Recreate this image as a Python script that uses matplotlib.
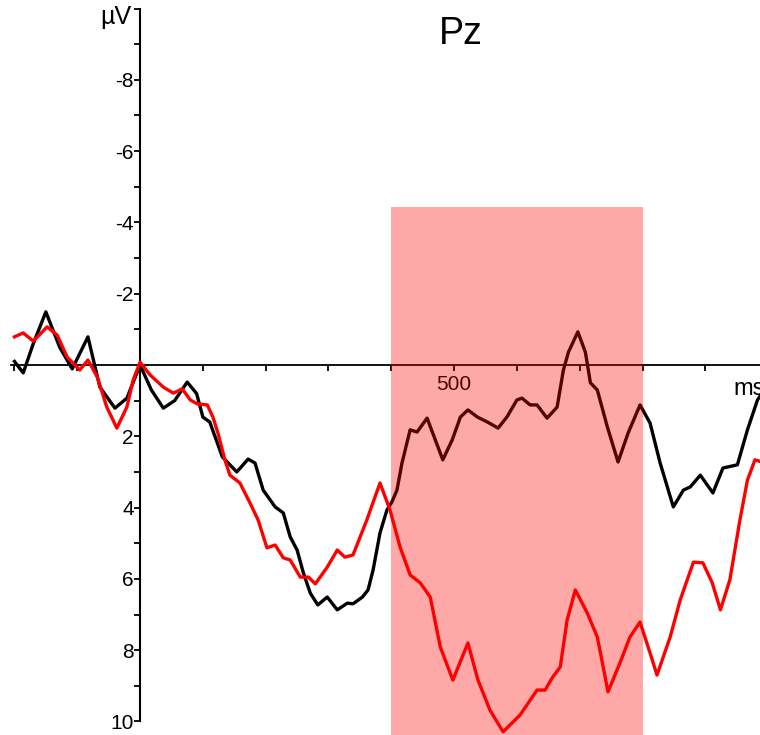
import numpy as np
import matplotlib
matplotlib.use("Agg")
from matplotlib import pyplot as plt
from matplotlib.ticker import FixedLocator

plt.rcParams['font.family'] = ['Liberation Sans', 'DejaVu Sans']

# black curve: time (ms), amplitude (uV)
t_black = [-200, -186, -170, -150, -128, -108, -83, -64, -40, -21, 0, 18, 37, 55, 75, 90, 100,
           111, 131, 154, 172, 183, 196, 215, 228, 239, 250, 260, 271, 283, 298, 314, 330, 339,
           354, 363, 371, 382, 393, 401, 409, 417, 430, 441, 457, 467, 482, 497, 510, 522, 537,
           553, 570, 584, 600, 608, 621, 632, 648, 664, 674, 682, 697, 709, 717, 728, 744, 761,
           777, 796, 812, 828, 849, 865, 876, 892, 912, 928, 951, 967, 983, 990]
v_black = [-0.1, 0.22, -0.6, -1.49, -0.5, 0.11, -0.79, 0.62, 1.21, 0.93, 0.0, 0.7, 1.21, 1.0,
           0.48, 0.8, 1.46, 1.60, 2.58, 3.0, 2.64, 2.75, 3.51, 3.98, 4.15, 4.82, 5.19, 5.83,
           6.40, 6.73, 6.51, 6.87, 6.68, 6.70, 6.51, 6.31, 5.75, 4.71, 4.07, 3.84, 3.51, 2.75,
           1.82, 1.88, 1.49, 1.96, 2.66, 2.10, 1.46, 1.26, 1.46, 1.60, 1.77, 1.46, 0.98, 0.93,
           1.12, 1.12, 1.49, 1.18, 0.14, -0.36, -0.93, -0.36, 0.50, 0.70, 1.74, 2.72, 1.91,
           1.12, 1.63, 2.75, 3.98, 3.51, 3.42, 3.09, 3.59, 2.89, 2.80, 1.82, 0.98, 0.80]

# red curve
t_red = [-200, -186, -170, -148, -132, -116, -96, -83, -68, -53, -37, -21, -11, 0, 16, 37, 53,
         67, 80, 91, 107, 116, 124, 135, 143, 159, 175, 188, 202, 215, 228, 239, 255, 268, 279,
         298, 314, 326, 339, 361, 382, 398, 414, 430, 446, 462, 478, 498, 522, 538, 557, 578,
         605, 632, 645, 656, 669, 680, 693, 712, 728, 745, 764, 780, 796, 812, 823, 844, 860,
         881, 896, 911, 924, 939, 955, 967, 979, 990]
v_red = [-0.79, -0.90, -0.67, -1.07, -0.84, -0.22, 0.14, -0.14, 0.34, 1.18, 1.77, 1.18, 0.42,
         -0.08, 0.28, 0.62, 0.79, 0.67, 0.98, 1.09, 1.12, 1.46, 1.91, 2.66, 3.09, 3.31, 3.87,
         4.35, 5.13, 5.05, 5.41, 5.47, 5.95, 5.95, 6.14, 5.67, 5.19, 5.39, 5.33, 4.35, 3.31,
         4.07, 5.11, 5.89, 6.11, 6.51, 7.91, 8.84, 7.80, 8.84, 9.68, 10.29, 9.82, 9.12, 9.12,
         8.78, 8.47, 7.15, 6.31, 6.96, 7.63, 9.17, 8.36, 7.63, 7.21, 8.08, 8.70, 7.63, 6.59,
         5.53, 5.55, 6.11, 6.87, 6.03, 4.35, 3.23, 2.66, 2.72]

win_start, win_end, win_top = 400, 800, -4.43

fig = plt.figure(figsize=(7.6, 7.35), dpi=100)
ax = fig.add_axes([0, 0, 1, 1])

ax.plot(t_black, v_black, color='black', lw=2.4, zorder=3, solid_joinstyle='round')
ax.plot(t_red, v_red, color='#ff0000', lw=2.4, zorder=3, solid_joinstyle='round')

# analysis window drawn over the curves
ax.fill_between([win_start, win_end], win_top, 11, color='#ff0000', alpha=0.34, lw=0, zorder=5)

ax.set_xlim(-223, 987)
ax.set_ylim(10.38, -10.24)

for s in ['top', 'right']:
    ax.spines[s].set_visible(False)
ax.spines['left'].set_position(('data', 0))
ax.spines['bottom'].set_position(('data', 0))
ax.spines['left'].set_bounds(-10, 10)
ax.spines['bottom'].set_bounds(-205, 1000)
ax.spines['left'].set_linewidth(1.5)
ax.spines['bottom'].set_linewidth(1.3)

ax.yaxis.set_major_locator(FixedLocator([-8, -6, -4, -2, 2, 4, 6, 8, 10]))
ax.yaxis.set_minor_locator(FixedLocator([-10, -9, -7, -5, -3, -1, 1, 3, 5, 7, 9]))
ax.tick_params(axis='y', which='both', direction='out', length=4.5, width=1.3, pad=0,
               labelsize=15)
ax.set_yticklabels(['-8', '-6', '-4', '-2', '2', '4', '6', '8', '10'])

ax.xaxis.set_major_locator(FixedLocator([500]))
ax.xaxis.set_minor_locator(FixedLocator([-200, -100, 100, 200, 300, 400, 600, 700, 800, 900]))
ax.tick_params(axis='x', which='both', direction='out', length=4.5, width=1.3, pad=3,
               labelsize=15)
ax.set_xticklabels(['500'])

ax.text(510, -9.3, 'Pz', fontsize=27, ha='center', va='center')
ax.text(-14, -9.75, 'µV', fontsize=18, ha='right', va='center')
ax.text(944, 0.68, 'ms', fontsize=17, ha='left', va='center')

fig.savefig('out.png', dpi=100)
